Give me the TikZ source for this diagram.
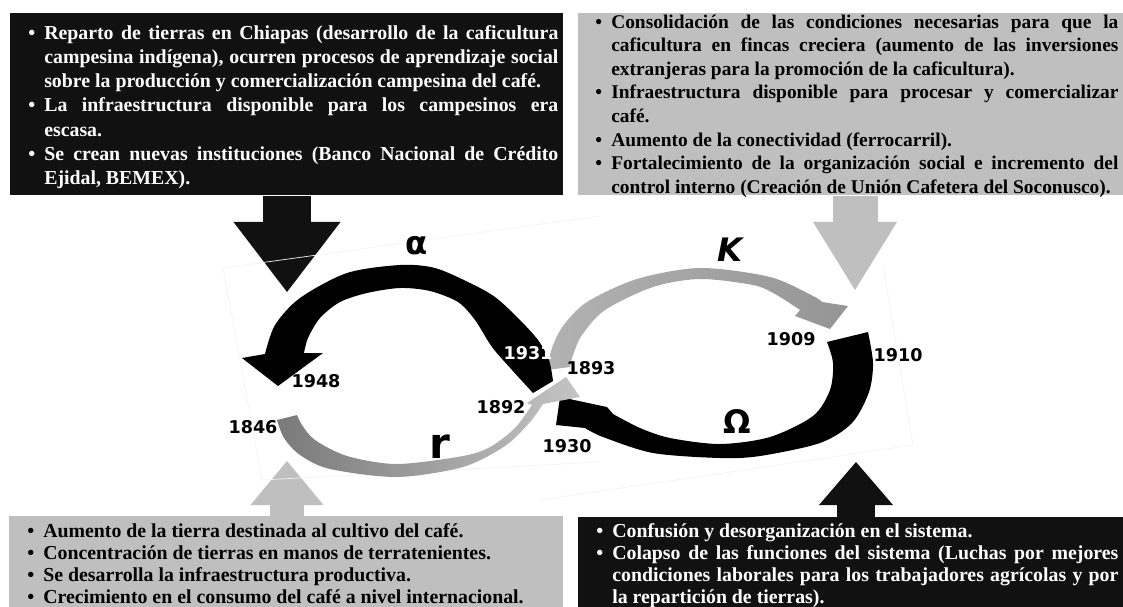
\documentclass[tikz,border=0pt]{standalone}
\usepackage{fontspec}
\setmainfont{Liberation Serif}
\newfontfamily\cyclefont{DejaVu Sans}
\usetikzlibrary{arrows.meta}

\definecolor{boxblack}{HTML}{111111}
\definecolor{boxgray}{HTML}{BFBFBF}
\definecolor{rdark}{HTML}{7A7A7A}
\definecolor{rlight}{HTML}{C4C4C4}
\definecolor{kdark}{HTML}{959595}
\definecolor{klight}{HTML}{B2B2B2}

\hyphenpenalty=10000
\exhyphenpenalty=10000

% bullet item with hanging indent (each item ends with \par)
\newcommand\bul{\noindent\hangindent=0.4cm\hangafter=1\makebox[0.4cm][l]{\textbullet}}

\begin{document}
\begin{tikzpicture}[x=0.025cm, y=-0.025cm,
    darkbox/.style={fill=boxblack, inner sep=0pt, anchor=north west},
    lightbox/.style={fill=boxgray, inner sep=0pt, anchor=north west},
    boxtext/.style={inner sep=0pt, anchor=base west, align=justify, text width=#1},
    toptext/.style={font=\bfseries\fontsize{13.8}{16.8}\selectfont},
    bottext/.style={font=\bfseries\fontsize{14.1}{15.8}\selectfont},
    blockarrow/.style n args={3}{line width=#1, arrows={-{Triangle[length=#2, width=#3, line width=0pt]}}},
    yearlbl/.style={font=\cyclefont\bfseries\fontsize{12.5}{14}\selectfont, inner sep=0pt},
    greeklbl/.style={font=\cyclefont\bfseries\fontsize{23}{26}\selectfont, inner sep=0pt},
    framefaint/.style={draw=black!5, line width=0.5pt}]
  \useasboundingbox (0,0) rectangle (1123,606);

  % boxes
  \node[darkbox, minimum width=13.825cm, minimum height=4.55cm] (tlbox) at (10,13) {};
  \node[lightbox, minimum width=13.625cm, minimum height=4.55cm] (trbox) at (578,13) {};
  \node[lightbox, minimum width=13.85cm, minimum height=2.4cm] (blbox) at (9,516) {};
  \node[darkbox, minimum width=13.625cm, minimum height=2.4cm] (brbox) at (578,517) {};

  \node[boxtext=13.25cm, toptext, font=\bfseries\fontsize{14.1}{17.3}\selectfont, text=white] (tltext) at (28,39) {%
    \bul Reparto de tierras en Chiapas (desarrollo de la caficultura\linebreak
    campesina indígena), ocurren procesos de aprendizaje social\linebreak
    sobre la producción y comercialización campesina del café.\par
    \bul La infraestructura disponible para los campesinos era\linebreak
    escasa.\par
    \bul Se crean nuevas instituciones (Banco Nacional de Crédito\linebreak
    Ejidal, BEMEX).\par};
  \node[boxtext=13.075cm, toptext] (trtext) at (595,28) {%
    \bul Consolidación de las condiciones necesarias para que la\linebreak
    caficultura en fincas creciera (aumento de las inversiones\linebreak
    extranjeras para la promoción de la caficultura).\par
    \bul Infraestructura disponible para procesar y comercializar\linebreak
    café.\par
    \bul Aumento de la conectividad (ferrocarril).\par
    \bul Fortalecimiento de la organización social e incremento del\linebreak
    control interno (Creación de Unión Cafetera del Soconusco).\par};
  \node[boxtext=13.275cm, bottext] (bltext) at (27,537) {%
    \bul Aumento de la tierra destinada al cultivo del café.\par
    \bul Concentración de tierras en manos de terratenientes.\par
    \bul Se desarrolla la infraestructura productiva.\par
    \bul Crecimiento en el consumo del café a nivel internacional.\par};
  \node[boxtext=13.05cm, bottext, text=white] (brtext) at (596,537) {%
    \bul Confusión y desorganización en el sistema.\par
    \bul Colapso de las funciones del sistema (Luchas por mejores\linebreak
    condiciones laborales para los trabajadores agrícolas y por\linebreak
    la repartición de tierras).\par};

  % block arrows
  \coordinate (alphaIn) at (287,292);
  \coordinate (kIn) at (855,290);
  \coordinate (rIn) at (287,461);
  \coordinate (omegaIn) at (856,462);
  \draw[boxblack, blockarrow={1.175cm}{1.75cm}{2.675cm}] (tlbox.south -| alphaIn) -- (alphaIn);
  \draw[boxgray, blockarrow={1.125cm}{1.7cm}{2.1cm}] (trbox.south -| kIn) -- (kIn);
  \draw[boxgray, blockarrow={0.85cm}{1.1cm}{1.825cm}] (blbox.north -| rIn) -- (rIn);
  \draw[boxblack, blockarrow={0.95cm}{1.075cm}{1.85cm}] (brbox.north -| omegaIn) -- (omegaIn);

  % faint frame of the cycle picture
  \draw[framefaint] (223,268) -- (600,216);
  \draw[framefaint] (223,268) -- (262,480) -- (600,462);
  \draw[framefaint] (883,265) -- (913,445) -- (540,500);

  % K
  \shade[left color=klight, right color=kdark]
    plot[smooth] coordinates {(547,370) (552,348) (563,326) (587,302) (637,279) (700,268) (770,277) (813,296) (822,302)}
    -- (848,306) -- (830,329) -- (795,316) --
    plot[smooth] coordinates {(800,310) (775,294) (753,285) (700,279) (653,287) (605,310) (582,335) (573,355) (570,367)} -- cycle;
  % alpha
  \fill[black]
    plot[smooth] coordinates {(553,381) (549,360) (538,340) (518,318) (495,297) (470,283) (435,268) (400,265) (347,273) (300,298) (275,325) (265,354)}
    -- (242,358) -- (278,386) -- (323,353) --
    plot[smooth] coordinates {(304,353) (308,338) (320,318) (340,302) (367,293) (400,288) (430,291) (458,302) (475,320) (492,347) (512,370) (533,393)} -- cycle;
  % Omega
  \fill[black]
    plot[smooth] coordinates {(868,332) (873,363) (869,392) (852,423) (820,443) (760,456) (720,458) (653,453) (603,437) (585,428)}
    -- (556,425) -- (560,397) -- (607,407) --
    plot[smooth] coordinates {(613,414) (640,428) (670,438) (720,444) (770,437) (813,416) (830,390) (833,363) (827,342)} -- cycle;
  % r
  \shade[left color=rdark, right color=rlight]
    plot[smooth] coordinates {(277,420) (284,438) (300,455) (330,469) (397,477) (463,467) (505,446) (530,422) (543,404)}
    -- (580,397) -- (566,377) -- (527,403) --
    plot[smooth] coordinates {(532,405) (515,428) (490,447) (463,456) (397,464) (347,456) (315,440) (302,425) (297,415)} -- cycle;

  % labels
  \node[greeklbl] (alpha) at (417,246) {α};
  \node[greeklbl, font=\cyclefont\bfseries\itshape\fontsize{23}{26}\selectfont] (kappa) at (730,250) {K};
  \node[greeklbl] (omega) at (737,421) {Ω};
  \node[greeklbl, font=\cyclefont\bfseries\fontsize{30}{32}\selectfont] (rlbl) at (440,447) {r};
  \node[yearlbl] (y1948) at (316,381) {1948};
  \node[yearlbl] (y1846) at (253,427) {1846};
  \node[yearlbl] (y1892) at (501,407) {1892};
  \node[yearlbl, text=white] (y1931) at (528,353) {1931};
  \node[yearlbl] (y1930) at (567,446) {1930};
  \node[yearlbl] (y1893) at (591,368) {1893};
  \node[yearlbl] (y1909) at (791,339) {1909};
  \node[yearlbl] (y1910) at (898,355) {1910};
\end{tikzpicture}
\end{document}
